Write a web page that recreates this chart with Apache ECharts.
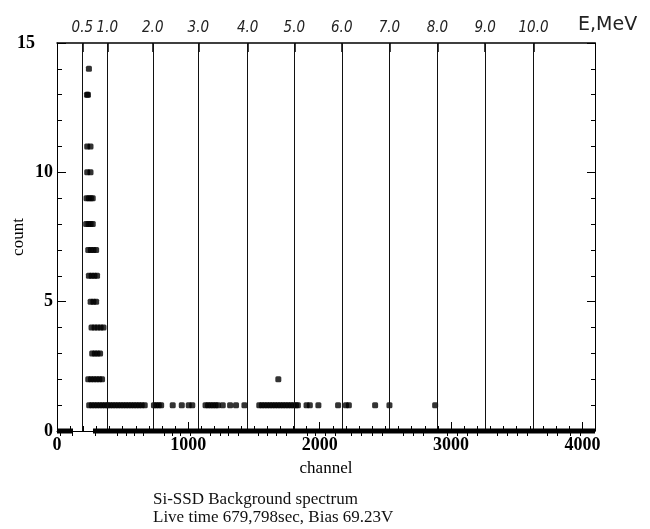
<!DOCTYPE html>
<html><head><meta charset="utf-8">
<script src="https://cdn.jsdelivr.net/npm/echarts@6/dist/echarts.min.js"></script>
<style>html,body{margin:0;padding:0;background:#fff}#c{width:650px;height:529px}</style>
</head><body><div id="c"></div>
<script>
// Top axis: energy (MeV) calibration lines, at channel positions
const energyLabels = ['0.5','1.0','2.0','3.0','4.0','5.0','6.0','7.0','8.0','9.0','10.0'];
const energyChannels = [193, 383, 729, 1076, 1452, 1807, 2168, 2531, 2896, 3260, 3628];
const energyMinorTicks = [28, 117, 289, 462, 525, 589, 658, 815, 878, 942, 1013, 1165, 1241, 1305, 1381,
  1533, 1597, 1673, 1749, 1902, 1965, 2041, 2117, 2244, 2320, 2397, 2473, 2638, 2714, 2790,
  2968, 3044, 3120, 3197, 3349, 3425, 3501, 3577, 3729, 3805, 3907, 3983];

// Bottom / left tick labels
const xTickLabels = [0, 1000, 2000, 3000, 4000];
const yTickLabels = [0, 5, 10, 15];

// Spectrum points: for each count level, the channels where a point sits
const rowCounts = [14, 13, 11, 10, 9, 8, 7, 6, 5, 4, 3, 2, 1];
const rowChannels = [
  [243],
  [228, 236],
  [230, 255],
  [230, 255],
  [225, 242, 258, 272],
  [222, 240, 256, 272],
  [238, 258, 278, 298],
  [243, 264, 285, 305],
  [256, 277, 298],
  [263, 286, 309, 332, 354],
  [268, 288, 308, 328],
  [238, 259, 280, 301, 322, 343, 1685],
  [245, 265, 285, 305, 325, 345, 365, 385, 405, 425, 445, 465, 485, 505, 525, 545, 565, 585, 605, 625, 645, 668,
   738, 756, 775, 793, 881, 950, 1003, 1030,
   1131, 1150, 1169, 1188, 1207, 1225, 1262, 1318, 1363, 1427,
   1540, 1560, 1580, 1600, 1620, 1640, 1660, 1680, 1700, 1720, 1740, 1760, 1780, 1800, 1820, 1834,
   1900, 1925, 1990, 2140, 2200, 2222, 2422, 2531, 2879]
];
// Channels with zero counts (drawn as continuous runs at count 0)
const zeroSegments = [[0, 122], [274, 4096]];

const points = [];
rowCounts.forEach((c, i) => rowChannels[i].forEach(ch => points.push([ch, c])));

const serif = "'Liberation Serif','Times New Roman',serif";
const hand = "'DejaVu Sans Condensed','DejaVu Sans',sans-serif";

const chart = echarts.init(document.getElementById('c'), null, {renderer: 'canvas'});
const zeroSeries = zeroSegments.map(s => ({
  type: 'line', xAxisIndex: 0, yAxisIndex: 0, silent: true, clip: false,
  symbol: 'none', data: [[s[0], 0], [s[1], 0]],
  lineStyle: {color: '#000', width: 5, cap: 'butt'}, z: 5
}));

chart.setOption({
  animation: false,
  backgroundColor: '#fff',
  title: {
    text: 'Si-SSD Background spectrum\nLive time 679,798sec, Bias 69.23V',
    left: 148, top: 486,
    textStyle: {fontFamily: serif, fontSize: 17, fontWeight: 'normal', color: '#111', lineHeight: 18}
  },
  grid: {left: 57, top: 43, width: 538, height: 388, containLabel: false, outerBoundsMode: 'none'},
  xAxis: [
    {
      type: 'value', position: 'bottom', min: 0, max: 4096, interval: 1000,
      name: 'channel', nameLocation: 'middle', nameGap: 29, nameMoveOverlap: false,
      nameTextStyle: {fontFamily: serif, fontSize: 17, color: '#000'},
      axisLine: {show: true, onZero: false, lineStyle: {color: '#000', width: 1}},
      axisTick: {show: true, inside: true, length: 9, lineStyle: {color: '#000'}},
      minorTick: {show: true, splitNumber: 10, length: 5, lineStyle: {color: '#000'}},
      axisLabel: {fontFamily: serif, fontSize: 18, fontWeight: 'bold', color: '#000', margin: 5,
        customValues: xTickLabels, formatter: v => String(v)},
      splitLine: {show: false}
    },
    {
      type: 'value', position: 'top', min: 0, max: 4096,
      name: 'E,MeV', nameLocation: 'end', nameGap: -17, nameMoveOverlap: false,
      nameTextStyle: {fontFamily: "'DejaVu Sans',sans-serif", fontSize: 19, color: '#222',
        align: 'left', verticalAlign: 'bottom', padding: [0, 0, 8, 0]},
      axisLine: {show: true, onZero: false, lineStyle: {color: '#000', width: 1.5}},
      axisTick: {show: true, inside: true, length: 9, customValues: energyChannels, lineStyle: {color: '#000', width: 1.5}},
      axisLabel: {show: true, customValues: energyChannels, margin: 7,
        fontFamily: hand, fontStyle: 'italic', fontSize: 15, color: '#222',
        formatter: v => energyLabels[energyChannels.indexOf(v)] || ''},
      splitLine: {show: false}
    },
    {
      type: 'value', position: 'top', min: 0, max: 4096,
      axisLine: {show: false},
      axisTick: {show: true, inside: true, length: 5, customValues: energyMinorTicks, lineStyle: {color: '#000'}},
      axisLabel: {show: false},
      splitLine: {show: false}
    }
  ],
  yAxis: [
    {
      type: 'value', position: 'left', min: 0, max: 15, interval: 5,
      name: 'count', nameLocation: 'middle', nameGap: 30, nameMoveOverlap: false,
      nameTextStyle: {fontFamily: serif, fontSize: 17, color: '#000'},
      axisLine: {show: true, onZero: false, lineStyle: {color: '#000', width: 1}},
      axisTick: {show: true, inside: true, length: 9, lineStyle: {color: '#000'}},
      minorTick: {show: true, splitNumber: 5, length: 5, lineStyle: {color: '#000'}},
      axisLabel: {fontFamily: serif, fontSize: 18, fontWeight: 'bold', color: '#000', margin: 4,
        customValues: yTickLabels,
        formatter: v => v === 15 ? '{a|15}' : String(v),
        rich: {a: {fontFamily: serif, fontSize: 18, fontWeight: 'bold', color: '#000', padding: [0, 18, 0, 0]}}},
      splitLine: {show: false}
    },
    {
      type: 'value', position: 'right', min: 0, max: 15, interval: 5,
      axisLine: {show: true, onZero: false, lineStyle: {color: '#000', width: 1}},
      axisTick: {show: true, inside: true, length: 8, lineStyle: {color: '#000'}},
      minorTick: {show: true, splitNumber: 5, length: 4, lineStyle: {color: '#000'}},
      axisLabel: {show: false},
      splitLine: {show: false}
    }
  ],
  series: [
    {
      type: 'scatter', xAxisIndex: 0, yAxisIndex: 0, data: points,
      symbol: 'roundRect', symbolSize: 6,
      itemStyle: {color: '#000'}, z: 4,
      markLine: {
        silent: true, symbol: ['none', 'none'], animation: false,
        label: {show: false},
        lineStyle: {color: '#111', width: 1, type: 'solid'},
        data: energyChannels.map(c => ({xAxis: c}))
      }
    }
  ].concat(zeroSeries)
});
</script>
</body></html>
